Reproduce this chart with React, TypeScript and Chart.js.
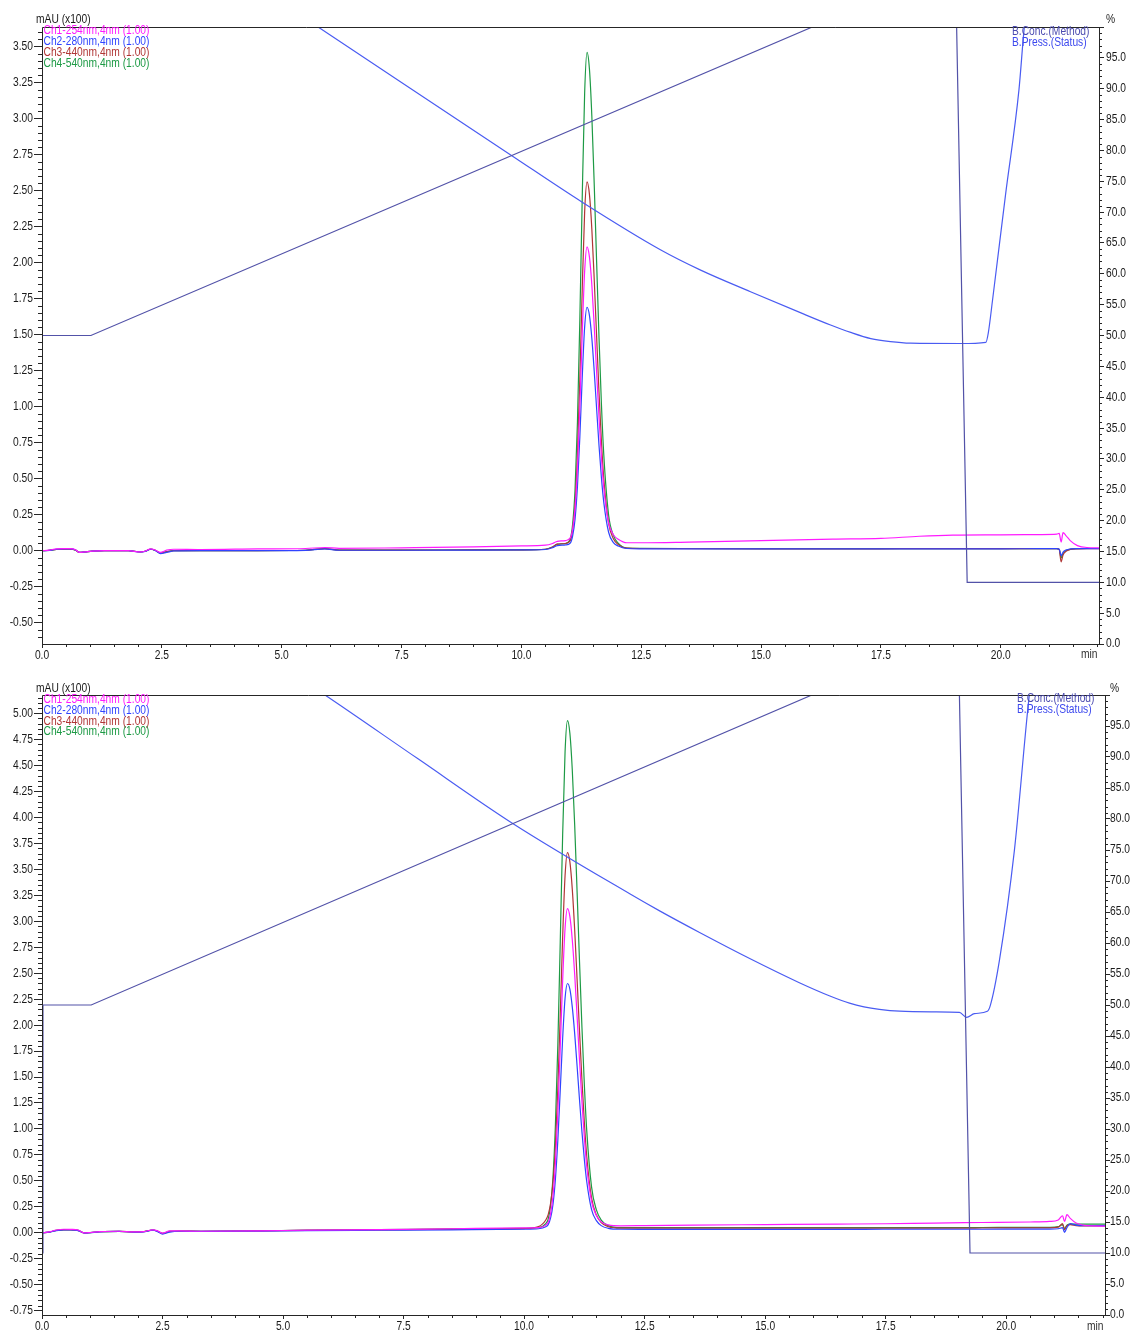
import React, { useEffect, useRef } from 'react';
import { Chart, registerables } from 'chart.js';
Chart.register(...registerables);

// ---------------- data: run 1 (top) ----------------
const TOP_TIME = [0, 0.15, 0.3, 0.45, 0.6, 0.7, 0.78, 0.9, 1.05, 1.3,
  1.8, 2.05, 2.15, 2.27, 2.37, 2.47, 2.6, 2.75, 3.3, 4.5,
  5.5, 5.9, 6.2, 7.5, 9, 10, 10.5, 10.65, 10.75, 10.92,
  11.02, 11.07, 11.12, 11.17, 11.22, 11.27, 11.32, 11.37, 11.42, 11.47,
  11.52, 11.57, 11.62, 11.67, 11.72, 11.82, 11.92, 12.02, 12.2, 12.5,
  13.5, 15, 16.5, 17.5, 18.3, 19, 20, 20.8, 21.17, 21.22,
  21.26, 21.3, 21.36, 21.45, 21.6, 21.8, 22.05];
const TOP_CH1 = [0, 0.004, 0.013, 0.014, 0.014, 0.006, -0.012, -0.008, -0.003, 0,
  0, -0.009, -0.004, 0.013, 0.003, -0.012, 0.004, 0.01, 0.008, 0.012,
  0.015, 0.022, 0.016, 0.02, 0.026, 0.033, 0.038, 0.05, 0.065, 0.07,
  0.089, 0.15, 0.294, 0.573, 0.999, 1.509, 1.94, 2.11, 2.04, 1.846,
  1.56, 1.239, 0.923, 0.648, 0.435, 0.193, 0.111, 0.08, 0.055, 0.055,
  0.06, 0.07, 0.08, 0.085, 0.1, 0.108, 0.11, 0.112, 0.115, 0.12,
  0.06, 0.125, 0.105, 0.07, 0.035, 0.022, 0.02];
const TOP_CH2 = [0, 0.002, 0.01, 0.012, 0.012, 0.005, -0.012, -0.008, -0.003, 0,
  0, -0.009, -0.005, 0.01, 0, -0.02, -0.012, -0.002, 0, 0,
  0.002, 0.012, 0.003, 0.003, 0.004, 0.005, 0.008, 0.02, 0.035, 0.04,
  0.053, 0.103, 0.219, 0.445, 0.79, 1.204, 1.552, 1.69, 1.634, 1.476,
  1.245, 0.985, 0.729, 0.506, 0.334, 0.128, 0.056, 0.032, 0.015, 0.013,
  0.012, 0.012, 0.012, 0.012, 0.013, 0.013, 0.013, 0.014, 0.014, 0.01,
  -0.035, -0.01, 0.005, 0.012, 0.014, 0.014, 0.014];
const TOP_CH3 = [0, 0.003, 0.008, 0.01, 0.01, 0.004, -0.012, -0.008, -0.003, 0,
  0, -0.008, -0.004, 0.01, 0.001, -0.016, -0.008, 0, 0.001, 0.001,
  0.003, 0.014, 0.004, 0.004, 0.005, 0.006, 0.01, 0.025, 0.045, 0.05,
  0.07, 0.146, 0.323, 0.666, 1.191, 1.82, 2.35, 2.56, 2.474, 2.234,
  1.883, 1.487, 1.098, 0.76, 0.497, 0.189, 0.083, 0.043, 0.017, 0.015,
  0.014, 0.013, 0.013, 0.013, 0.014, 0.014, 0.014, 0.014, 0.014, 0.008,
  -0.078, -0.03, -0.005, 0.008, 0.013, 0.014, 0.014];
const TOP_CH4 = [0, 0.003, 0.009, 0.011, 0.011, 0.004, -0.012, -0.008, -0.003, 0,
  0, -0.008, -0.004, 0.011, 0.001, -0.015, -0.007, 0, 0.001, 0.001,
  0.003, 0.014, 0.004, 0.004, 0.005, 0.006, 0.01, 0.025, 0.045, 0.05,
  0.083, 0.186, 0.425, 0.891, 1.604, 2.456, 3.176, 3.46, 3.344, 3.018,
  2.542, 2.004, 1.477, 1.018, 0.662, 0.248, 0.106, 0.052, 0.018, 0.016,
  0.015, 0.014, 0.014, 0.014, 0.014, 0.014, 0.014, 0.014, 0.014, 0.009,
  -0.05, -0.02, 0, 0.01, 0.014, 0.015, 0.015];
const TOP_CONC_TIME = [0, 1.02, 16.07, 19.08, 19.3, 22.05];
const TOP_CONC = [50, 50, 100, 100, 10, 10];
const TOP_PRESS_TIME = [4.8, 5.76, 7.5, 9.77, 11.27, 12.9, 13.74, 14.78, 15.82, 16.45, 16.87,
  17.29, 17.7, 18.12, 19.16, 19.69, 19.74, 19.83, 20.1, 20.38, 20.48, 20.55];
const TOP_PRESS = [105, 100, 91.0, 79.3, 71.6, 63.9, 60.6, 57.1, 53.7, 51.7, 50.5,
  49.5, 49.0, 48.75, 48.7, 48.9, 50.4, 55.8, 72.8, 89.8, 99.0, 104];

// ---------------- data: run 2 (bottom) ----------------
const BOT_TIME = [0, 0.15, 0.3, 0.45, 0.6, 0.75, 0.88, 1.0, 1.2, 1.6,
  1.9, 2.1, 2.3, 2.4, 2.5, 2.65, 2.85, 3.3, 4.5, 5.5,
  7, 8.5, 10, 10.3, 10.45, 10.5, 10.55, 10.6, 10.65, 10.7,
  10.75, 10.8, 10.85, 10.9, 10.95, 11.0, 11.05, 11.1, 11.15, 11.2,
  11.25, 11.3, 11.4, 11.5, 11.6, 11.75, 12.0, 12.5, 13.5, 15,
  16.5, 17.5, 18.5, 19.5, 20.5, 20.9, 21.08, 21.17, 21.21, 21.26,
  21.33, 21.45, 21.6, 21.8, 22.05];
const BOT_CH1 = [0, 0.01, 0.028, 0.035, 0.034, 0.028, 0, 0.004, 0.012, 0.016,
  0.01, 0.012, 0.03, 0.02, -0.002, 0.02, 0.02, 0.016, 0.02, 0.026,
  0.032, 0.04, 0.048, 0.05, 0.075, 0.102, 0.185, 0.357, 0.673, 1.155,
  1.778, 2.429, 2.93, 3.12, 3.043, 2.819, 2.485, 2.079, 1.659, 1.263,
  0.916, 0.636, 0.301, 0.167, 0.106, 0.077, 0.068, 0.07, 0.075, 0.08,
  0.085, 0.088, 0.095, 0.1, 0.105, 0.11, 0.125, 0.165, 0.11, 0.175,
  0.14, 0.095, 0.075, 0.068, 0.065];
const BOT_CH2 = [0, 0.008, 0.022, 0.028, 0.028, 0.022, -0.002, 0.002, 0.01, 0.014,
  0.008, 0.01, 0.026, 0.012, -0.012, 0.008, 0.016, 0.014, 0.018, 0.022,
  0.026, 0.03, 0.035, 0.04, 0.059, 0.08, 0.144, 0.277, 0.52, 0.891,
  1.371, 1.873, 2.258, 2.4, 2.346, 2.173, 1.915, 1.603, 1.279, 0.974,
  0.707, 0.492, 0.224, 0.118, 0.07, 0.044, 0.035, 0.034, 0.034, 0.034,
  0.034, 0.035, 0.035, 0.035, 0.036, 0.036, 0.04, 0.05, 0.006, 0.05,
  0.09, 0.075, 0.07, 0.07, 0.07];
const BOT_CH3 = [0, 0.008, 0.024, 0.03, 0.03, 0.024, -0.001, 0.003, 0.011, 0.015,
  0.009, 0.011, 0.028, 0.016, -0.006, 0.014, 0.018, 0.015, 0.02, 0.025,
  0.03, 0.036, 0.042, 0.06, 0.124, 0.176, 0.284, 0.487, 0.839, 1.386,
  2.1, 2.847, 3.436, 3.66, 3.57, 3.306, 2.912, 2.435, 1.939, 1.473,
  1.064, 0.735, 0.334, 0.172, 0.099, 0.059, 0.045, 0.045, 0.045, 0.045,
  0.045, 0.046, 0.046, 0.047, 0.048, 0.048, 0.055, 0.09, 0.03, 0.07,
  0.08, 0.07, 0.068, 0.068, 0.068];
const BOT_CH4 = [0, 0.008, 0.025, 0.031, 0.031, 0.025, 0, 0.003, 0.011, 0.015,
  0.009, 0.011, 0.028, 0.016, -0.005, 0.015, 0.018, 0.016, 0.021, 0.026,
  0.031, 0.037, 0.044, 0.05, 0.089, 0.133, 0.265, 0.538, 1.041, 1.807,
  2.797, 3.832, 4.627, 4.93, 4.808, 4.452, 3.92, 3.276, 2.607, 1.978,
  1.426, 0.982, 0.44, 0.221, 0.123, 0.07, 0.05, 0.05, 0.05, 0.05,
  0.05, 0.05, 0.051, 0.052, 0.053, 0.054, 0.06, 0.08, 0.04, 0.075,
  0.085, 0.085, 0.085, 0.085, 0.085];
const BOT_CONC_TIME = [0, 0.02, 1.02, 15.97, 19.03, 19.25, 22.05];
const BOT_CONC = [10, 50, 50, 100, 100, 10, 10];
const BOT_PRESS_TIME = [4.8, 5.87, 7.8, 9.74, 12.2, 12.83, 13.64, 14.68, 15.71, 16.33, 16.75, 17.05, 17.37,
  17.79, 18.5, 19.03, 19.18, 19.34, 19.61, 19.67, 19.86, 20.17, 20.48, 20.55];
const BOT_PRESS = [105.5, 100, 89.7, 79.4, 67.9, 65.1, 61.7, 57.5, 53.6, 51.5, 50.3, 49.7, 49.3,
  49.0, 48.9, 48.8, 48.0, 48.6, 49.0, 49.9, 57.2, 74.9, 100, 104];

// ---------------- labels / ticks ----------------
const CH_LABELS = ['Ch1-254nm,4nm (1.00)', 'Ch2-280nm,4nm (1.00)', 'Ch3-440nm,4nm (1.00)', 'Ch4-540nm,4nm (1.00)'];
const GRAD_LABELS = ['B.Conc.(Method)', 'B.Press.(Status)'];
const Y_TITLE = 'mAU (x100)';
const Y2_TITLE = '%';
const X_TITLE = 'min';
const X_STEP = 2.5;
const X_MINOR = 0.5;
const Y_STEP = 0.25;
const Y_MINOR = 0.05;
const PCT_STEP = 5;
const PCT_MINOR = 1;

// ---------------- styles ----------------
const CH_COLORS = ['#ff1aff', '#3044ff', '#b03636', '#1d9a45'];
const GRAD_COLORS = ['#5252a8', '#4a5cf2'];
const GRAD_TEXT = ['#4b4bb0', '#3c48ee'];
const AXIS_COLOR = '#262626';
const TEXT_COLOR = '#1a1a1a';
const FONT_FAMILY = '"Liberation Sans", Arial, sans-serif';
const FONT_SIZE = 12.5;
const FONT_SQUEEZE = 0.82;
const LINE_W = 1.2;
const W = 1133;

const TOP_PANEL = {
  height: 668, padTop: 27, xAxisH: 24, leftW: 42, rightW: 34,
  yMin: -0.648, yMax: 3.636, xMax: 22.05,
  time: TOP_TIME, ch: [TOP_CH1, TOP_CH2, TOP_CH3, TOP_CH4],
  concT: TOP_CONC_TIME, conc: TOP_CONC, pressT: TOP_PRESS_TIME, press: TOP_PRESS,
  legendX: 43.5, legendY: 31, legendDy: 11, gradX: 1012, gradY: 32, gradDy: 10.5,
  unitX: 36, unitY: 20, pctX: 1106, pctY: 20, minX: 1081, minY: 655,
  xLabDy: 12, yLabDx: 9, y2LabDx: 7,
};
const BOT_PANEL = {
  height: 663, padTop: 27, xAxisH: 16, leftW: 42, rightW: 28,
  yMin: -0.79, yMax: 5.176, xMax: 22.05,
  time: BOT_TIME, ch: [BOT_CH1, BOT_CH2, BOT_CH3, BOT_CH4],
  concT: BOT_CONC_TIME, conc: BOT_CONC, pressT: BOT_PRESS_TIME, press: BOT_PRESS,
  legendX: 43.5, legendY: 32, legendDy: 10.6, gradX: 1017, gradY: 31, gradDy: 10.6,
  unitX: 36, unitY: 21, pctX: 1110, pctY: 21, minX: 1087, minY: 659,
  xLabDy: 12, yLabDx: 9, y2LabDx: 5,
};

function pts(t: number[], v: number[]) {
  const n = Math.min(t.length, v.length);
  const out: { x: number; y: number }[] = [];
  for (let i = 0; i < n; i++) out.push({ x: t[i], y: v[i] });
  return out;
}

function drawText(ctx: CanvasRenderingContext2D, text: string, x: number, y: number, align: CanvasTextAlign, color: string) {
  ctx.save();
  ctx.translate(x, y);
  ctx.scale(FONT_SQUEEZE, 1);
  ctx.font = `${FONT_SIZE}px ${FONT_FAMILY}`;
  ctx.textAlign = align;
  ctx.textBaseline = 'middle';
  ctx.fillStyle = color;
  ctx.fillText(text, 0, 0);
  ctx.restore();
}

function makeChart(canvas: HTMLCanvasElement, p: any) {
  const datasets: any[] = [
    { label: GRAD_LABELS[0], data: pts(p.concT, p.conc), yAxisID: 'y2', borderColor: GRAD_COLORS[0], borderWidth: LINE_W, pointRadius: 0, tension: 0 },
    { label: GRAD_LABELS[1], data: pts(p.pressT, p.press), yAxisID: 'y2', borderColor: GRAD_COLORS[1], borderWidth: LINE_W, pointRadius: 0, cubicInterpolationMode: 'monotone' },
  ];
  p.ch.forEach((vals: number[], i: number) => {
    datasets.push({ label: CH_LABELS[i], data: pts(p.time, vals), yAxisID: 'y', borderColor: CH_COLORS[i], borderWidth: LINE_W, pointRadius: 0, cubicInterpolationMode: 'monotone' });
  });

  const decor = {
    id: 'decor',
    afterDraw(chart: any) {
      const ctx = chart.ctx as CanvasRenderingContext2D;
      const { left, right, top, bottom } = chart.chartArea;
      const xs = chart.scales.x, ys = chart.scales.y, y2 = chart.scales.y2;
      ctx.save();
      ctx.strokeStyle = AXIS_COLOR;
      ctx.lineWidth = 1;
      ctx.beginPath();
      ctx.rect(Math.round(left) + 0.5, Math.round(top) + 0.5, Math.round(right - left), Math.round(bottom - top));
      ctx.stroke();
      ctx.beginPath();
      const xr = Math.round(X_STEP / X_MINOR);
      for (let i = 0; i * X_MINOR <= p.xMax + 1e-9; i++) {
        if (i % xr === 0) continue;
        const px = Math.round(xs.getPixelForValue(i * X_MINOR)) + 0.5;
        ctx.moveTo(px, bottom); ctx.lineTo(px, bottom + 3);
      }
      const yr = Math.round(Y_STEP / Y_MINOR);
      for (let i = Math.ceil(p.yMin / Y_MINOR); i * Y_MINOR <= p.yMax + 1e-9; i++) {
        if (i % yr === 0) continue;
        const py = Math.round(ys.getPixelForValue(i * Y_MINOR)) + 0.5;
        ctx.moveTo(left - 4, py); ctx.lineTo(left, py);
      }
      const pr = Math.round(PCT_STEP / PCT_MINOR);
      for (let i = 0; i * PCT_MINOR <= 100; i++) {
        if (i % pr === 0) continue;
        const py = Math.round(y2.getPixelForValue(i * PCT_MINOR)) + 0.5;
        ctx.moveTo(right, py); ctx.lineTo(right + 3, py);
      }
      ctx.stroke();
      ctx.restore();

      xs.ticks.forEach((t: any) => {
        drawText(ctx, Number(t.value).toFixed(1), xs.getPixelForValue(t.value), bottom + p.xLabDy, 'center', TEXT_COLOR);
      });
      ys.ticks.forEach((t: any) => {
        drawText(ctx, Number(t.value).toFixed(2), left - p.yLabDx, ys.getPixelForValue(t.value), 'right', TEXT_COLOR);
      });
      y2.ticks.forEach((t: any) => {
        if (t.value >= 100) return;
        drawText(ctx, Number(t.value).toFixed(1), right + p.y2LabDx, y2.getPixelForValue(t.value), 'left', TEXT_COLOR);
      });

      drawText(ctx, Y_TITLE, p.unitX, p.unitY, 'left', TEXT_COLOR);
      drawText(ctx, Y2_TITLE, p.pctX, p.pctY, 'left', TEXT_COLOR);
      drawText(ctx, X_TITLE, p.minX, p.minY, 'left', '#333');
      CH_LABELS.forEach((t, i) => drawText(ctx, t, p.legendX, p.legendY + i * p.legendDy, 'left', CH_COLORS[i]));
      GRAD_LABELS.forEach((t, i) => drawText(ctx, t, p.gradX, p.gradY + i * p.gradDy, 'left', GRAD_TEXT[i]));
    },
  };

  return new Chart(canvas, {
    type: 'line',
    data: { datasets },
    options: {
      responsive: false,
      animation: false,
      devicePixelRatio: 1,
      events: [],
      layout: { padding: { top: p.padTop, left: 0, right: 0, bottom: 0 } },
      plugins: { legend: { display: false }, tooltip: { enabled: false }, title: { display: false } },
      scales: {
        x: {
          type: 'linear', min: 0, max: p.xMax,
          afterFit: (s: any) => { s.height = p.xAxisH; },
          border: { display: false },
          grid: { drawOnChartArea: false, drawTicks: true, tickLength: 4, tickColor: AXIS_COLOR },
          ticks: { display: false, stepSize: X_STEP, includeBounds: false, autoSkip: false, maxRotation: 0 },
        },
        y: {
          type: 'linear', position: 'left', min: p.yMin, max: p.yMax,
          afterFit: (s: any) => { s.width = p.leftW; },
          border: { display: false },
          grid: { drawOnChartArea: false, drawTicks: true, tickLength: 8, tickColor: AXIS_COLOR },
          ticks: { display: false, stepSize: Y_STEP, includeBounds: false, autoSkip: false },
        },
        y2: {
          type: 'linear', position: 'right', min: 0, max: 100,
          afterFit: (s: any) => { s.width = p.rightW; },
          border: { display: false },
          grid: { drawOnChartArea: false, drawTicks: true, tickLength: 5, tickColor: AXIS_COLOR },
          ticks: { display: false, stepSize: PCT_STEP, includeBounds: false, autoSkip: false },
        },
      },
    },
    plugins: [decor],
  } as any);
}

export default function App() {
  const topRef = useRef<HTMLCanvasElement>(null);
  const botRef = useRef<HTMLCanvasElement>(null);
  useEffect(() => {
    const c1 = makeChart(topRef.current as HTMLCanvasElement, TOP_PANEL);
    const c2 = makeChart(botRef.current as HTMLCanvasElement, BOT_PANEL);
    return () => { c1.destroy(); c2.destroy(); };
  }, []);
  return (
    <div style={{ position: 'absolute', left: 0, top: 0, width: W, height: 1331, background: '#fff', overflow: 'hidden' }}>
      <canvas ref={topRef} width={W} height={TOP_PANEL.height} style={{ position: 'absolute', left: 0, top: 0 }} />
      <canvas ref={botRef} width={W} height={BOT_PANEL.height} style={{ position: 'absolute', left: 0, top: TOP_PANEL.height }} />
    </div>
  );
}
